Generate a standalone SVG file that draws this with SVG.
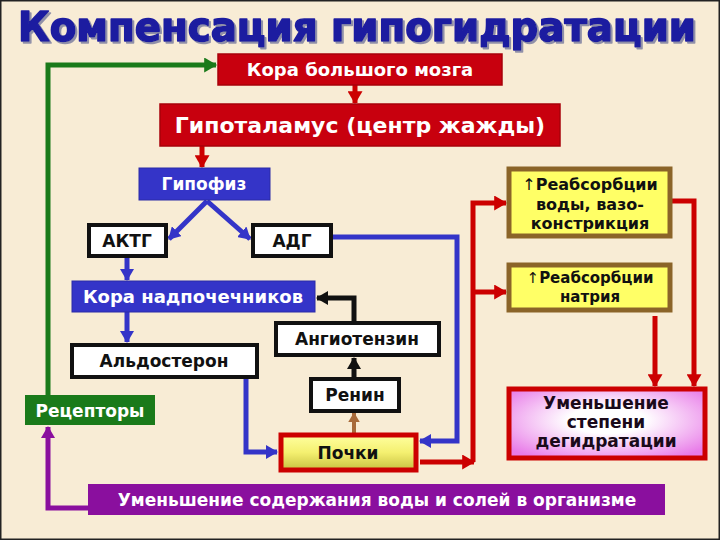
<svg xmlns="http://www.w3.org/2000/svg" width="720" height="540" viewBox="0 0 720 540">
<style>
.t{font-family:"DejaVu Sans","Liberation Sans",sans-serif;font-weight:bold;text-anchor:middle}
.w{fill:#ffffff}
.k{fill:#111111}
.thin{font-weight:normal}
.red{fill:#c8000e;stroke:#a8000a;stroke-width:1.5}
.blue{fill:#3434c8;stroke:#2a2aa8;stroke-width:1}
.white{fill:#ffffff;stroke:#111111;stroke-width:4}
.yel{fill:#ffff66;stroke:#8b6428;stroke-width:5}
.c{fill:none;stroke-width:5}
.cb{stroke:#3434c8}
.cr{stroke:#cc0000}
.ck{stroke:#111111}
.cg{stroke:#1a7a1a}
.cp{stroke:#8a0f9e}
.cn{stroke:#a86a3a;stroke-width:4}
</style>
<defs>
<marker id="ab" viewBox="0 0 12 14" refX="11" refY="7" markerWidth="12" markerHeight="14" markerUnits="userSpaceOnUse" orient="auto"><path d="M0,0 L12,7 L0,14 z" fill="#3434c8"/></marker>
<marker id="ar" viewBox="0 0 12 14" refX="11" refY="7" markerWidth="13" markerHeight="15" markerUnits="userSpaceOnUse" orient="auto"><path d="M0,0 L12,7 L0,14 z" fill="#cc0000"/></marker>
<marker id="ak" viewBox="0 0 12 14" refX="11" refY="7" markerWidth="12" markerHeight="14" markerUnits="userSpaceOnUse" orient="auto"><path d="M0,0 L12,7 L0,14 z" fill="#111111"/></marker>
<marker id="ag" viewBox="0 0 12 14" refX="11" refY="7" markerWidth="14" markerHeight="15" markerUnits="userSpaceOnUse" orient="auto"><path d="M0,0 L12,7 L0,14 z" fill="#1a7a1a"/></marker>
<marker id="ap" viewBox="0 0 12 14" refX="11" refY="7" markerWidth="12" markerHeight="14" markerUnits="userSpaceOnUse" orient="auto"><path d="M0,0 L12,7 L0,14 z" fill="#8a0f9e"/></marker>
<marker id="an" viewBox="0 0 12 14" refX="11" refY="7" markerWidth="10" markerHeight="12" markerUnits="userSpaceOnUse" orient="auto"><path d="M0,0 L12,7 L0,14 z" fill="#a86a3a"/></marker>
<linearGradient id="gk" x1="0" y1="0" x2="0" y2="1"><stop offset="0" stop-color="#ffffa0"/><stop offset="0.5" stop-color="#f4f070"/><stop offset="1" stop-color="#c8c040"/></linearGradient>
<radialGradient id="gu" cx="0.5" cy="0.45" r="0.65"><stop offset="0.3" stop-color="#ffffff"/><stop offset="1" stop-color="#e87ae8"/></radialGradient>
<filter id="sh" x="-5%" y="-20%" width="110%" height="150%"><feDropShadow dx="2" dy="2" stdDeviation="0.6" flood-color="#9090a8"/></filter>
</defs>
<rect x="0" y="0" width="720" height="540" fill="#f8ecd5"/>
<rect x="0.75" y="0.75" width="718.5" height="538.5" fill="none" stroke="#222" stroke-width="1.5"/>
<text id="title" x="357" y="41" font-family="DejaVu Sans, Liberation Sans, sans-serif" font-weight="900" font-size="40" fill="#1c1ca0" stroke="#1c1ca0" stroke-width="1.6" stroke-linejoin="round" text-anchor="middle" textLength="678" lengthAdjust="spacingAndGlyphs" filter="url(#sh)">Компенсация гипогидратации</text>

<g id="connectors">
<path class="c cg" d="M48,395 V65 H216" marker-end="url(#ag)"/>
<path class="c cr" d="M355,85 V103" marker-end="url(#ar)"/>
<path class="c cr" d="M202,146 V167" marker-end="url(#ar)"/>
<path class="c cb" d="M207,201 L169,239" marker-end="url(#ab)"/>
<path class="c cb" d="M207,201 L250,239" marker-end="url(#ab)"/>
<path class="c cb" d="M127,257 V280" marker-end="url(#ab)"/>
<path class="c cb" d="M127,312 V342" marker-end="url(#ab)"/>
<path class="c cb" d="M332,237 H457 V441 H420" marker-end="url(#ab)"/>
<path class="c cb" d="M246,378 V452 H277" marker-end="url(#ab)"/>
<path class="c ck" d="M354,321 V298 H317" marker-end="url(#ak)"/>
<path class="c ck" d="M354,377 V358" marker-end="url(#ak)"/>
<path class="c cn" d="M354,433 V413" marker-end="url(#an)"/>
<path class="c cr" d="M420,462 H474" marker-end="url(#ar)"/>
<path class="c cr" d="M473,462 V203 H506" marker-end="url(#ar)"/>
<path class="c cr" d="M473,292 H506" marker-end="url(#ar)"/>
<path class="c cr" d="M672,201 H694 V386" marker-end="url(#ar)"/>
<path class="c cr" d="M655,316 V386" marker-end="url(#ar)"/>
<path class="c cp" d="M88,508 H48 V427" marker-end="url(#ap)"/>
</g>

<g id="kora">
<rect class="red" x="218" y="54" width="284" height="31"/>
<text class="t w" x="360" y="76" font-size="18">Кора большого мозга</text>
</g>
<g id="gipotalamus">
<rect class="red" x="160" y="104" width="400" height="42"/>
<text class="t w" x="360" y="133" font-size="22">Гипоталамус (центр жажды)</text>
</g>
<g id="gipofiz">
<rect class="blue" x="139" y="168" width="131" height="32"/>
<text class="t w" x="204" y="190" font-size="17">Гипофиз</text>
</g>
<g id="aktg">
<rect class="white" x="89" y="225" width="77" height="31"/>
<text class="t k" x="127" y="247" font-size="17">АКТГ</text>
</g>
<g id="adg">
<rect class="white" x="253" y="225" width="78" height="31"/>
<text class="t k" x="292" y="247" font-size="17">АДГ</text>
</g>
<g id="kora-nadpochechnikov">
<rect class="blue" x="72" y="281" width="243" height="31"/>
<text class="t w" x="193" y="303" font-size="18">Кора надпочечников</text>
</g>
<g id="aldosteron">
<rect class="white" x="72" y="345" width="185" height="32"/>
<text class="t k" x="164" y="367" font-size="17">Альдостерон</text>
</g>
<g id="angiotenzin">
<rect class="white" x="276" y="323" width="163" height="32"/>
<text class="t k" x="357" y="345" font-size="17">Ангиотензин</text>
</g>
<g id="renin">
<rect class="white" x="311" y="379" width="88" height="32"/>
<text class="t k" x="355" y="401" font-size="17">Ренин</text>
</g>
<g id="pochki">
<rect x="281" y="435" width="135" height="35" fill="url(#gk)" stroke="#cc0000" stroke-width="5"/>
<text class="t k" x="348" y="459" font-size="17">Почки</text>
</g>
<g id="reabs-vody">
<rect class="yel" x="509" y="169" width="161" height="67"/>
<text class="t k" x="590" y="190" font-size="16"><tspan class="thin">↑</tspan>Реабсорбции</text>
<text class="t k" x="590" y="210" font-size="16">воды, вазо-</text>
<text class="t k" x="590" y="229" font-size="16">констрикция</text>
</g>
<g id="reabs-natriya">
<rect class="yel" x="509" y="265" width="161" height="45"/>
<text class="t k" x="590" y="283" font-size="15"><tspan class="thin">↑</tspan>Реабсорбции</text>
<text class="t k" x="590" y="302" font-size="15">натрия</text>
</g>
<g id="umenshenie-stepeni">
<rect x="509" y="389" width="196" height="69" fill="url(#gu)" stroke="#cc0000" stroke-width="5"/>
<text class="t" x="606" y="409" font-size="17" fill="#1a0a1a">Уменьшение</text>
<text class="t" x="606" y="428" font-size="17" fill="#1a0a1a">степени</text>
<text class="t" x="606" y="447" font-size="17" fill="#1a0a1a">дегидратации</text>
</g>
<g id="receptory">
<rect x="25" y="395" width="130" height="30" fill="#1a7a1a"/>
<text class="t w" x="90" y="417" font-size="17">Рецепторы</text>
</g>
<g id="umenshenie-soderzhaniya">
<rect x="88" y="484" width="577" height="31" fill="#8a0f9e"/>
<text class="t w" x="377" y="506" font-size="17">Уменьшение содержания воды и солей в организме</text>
</g>
</svg>
